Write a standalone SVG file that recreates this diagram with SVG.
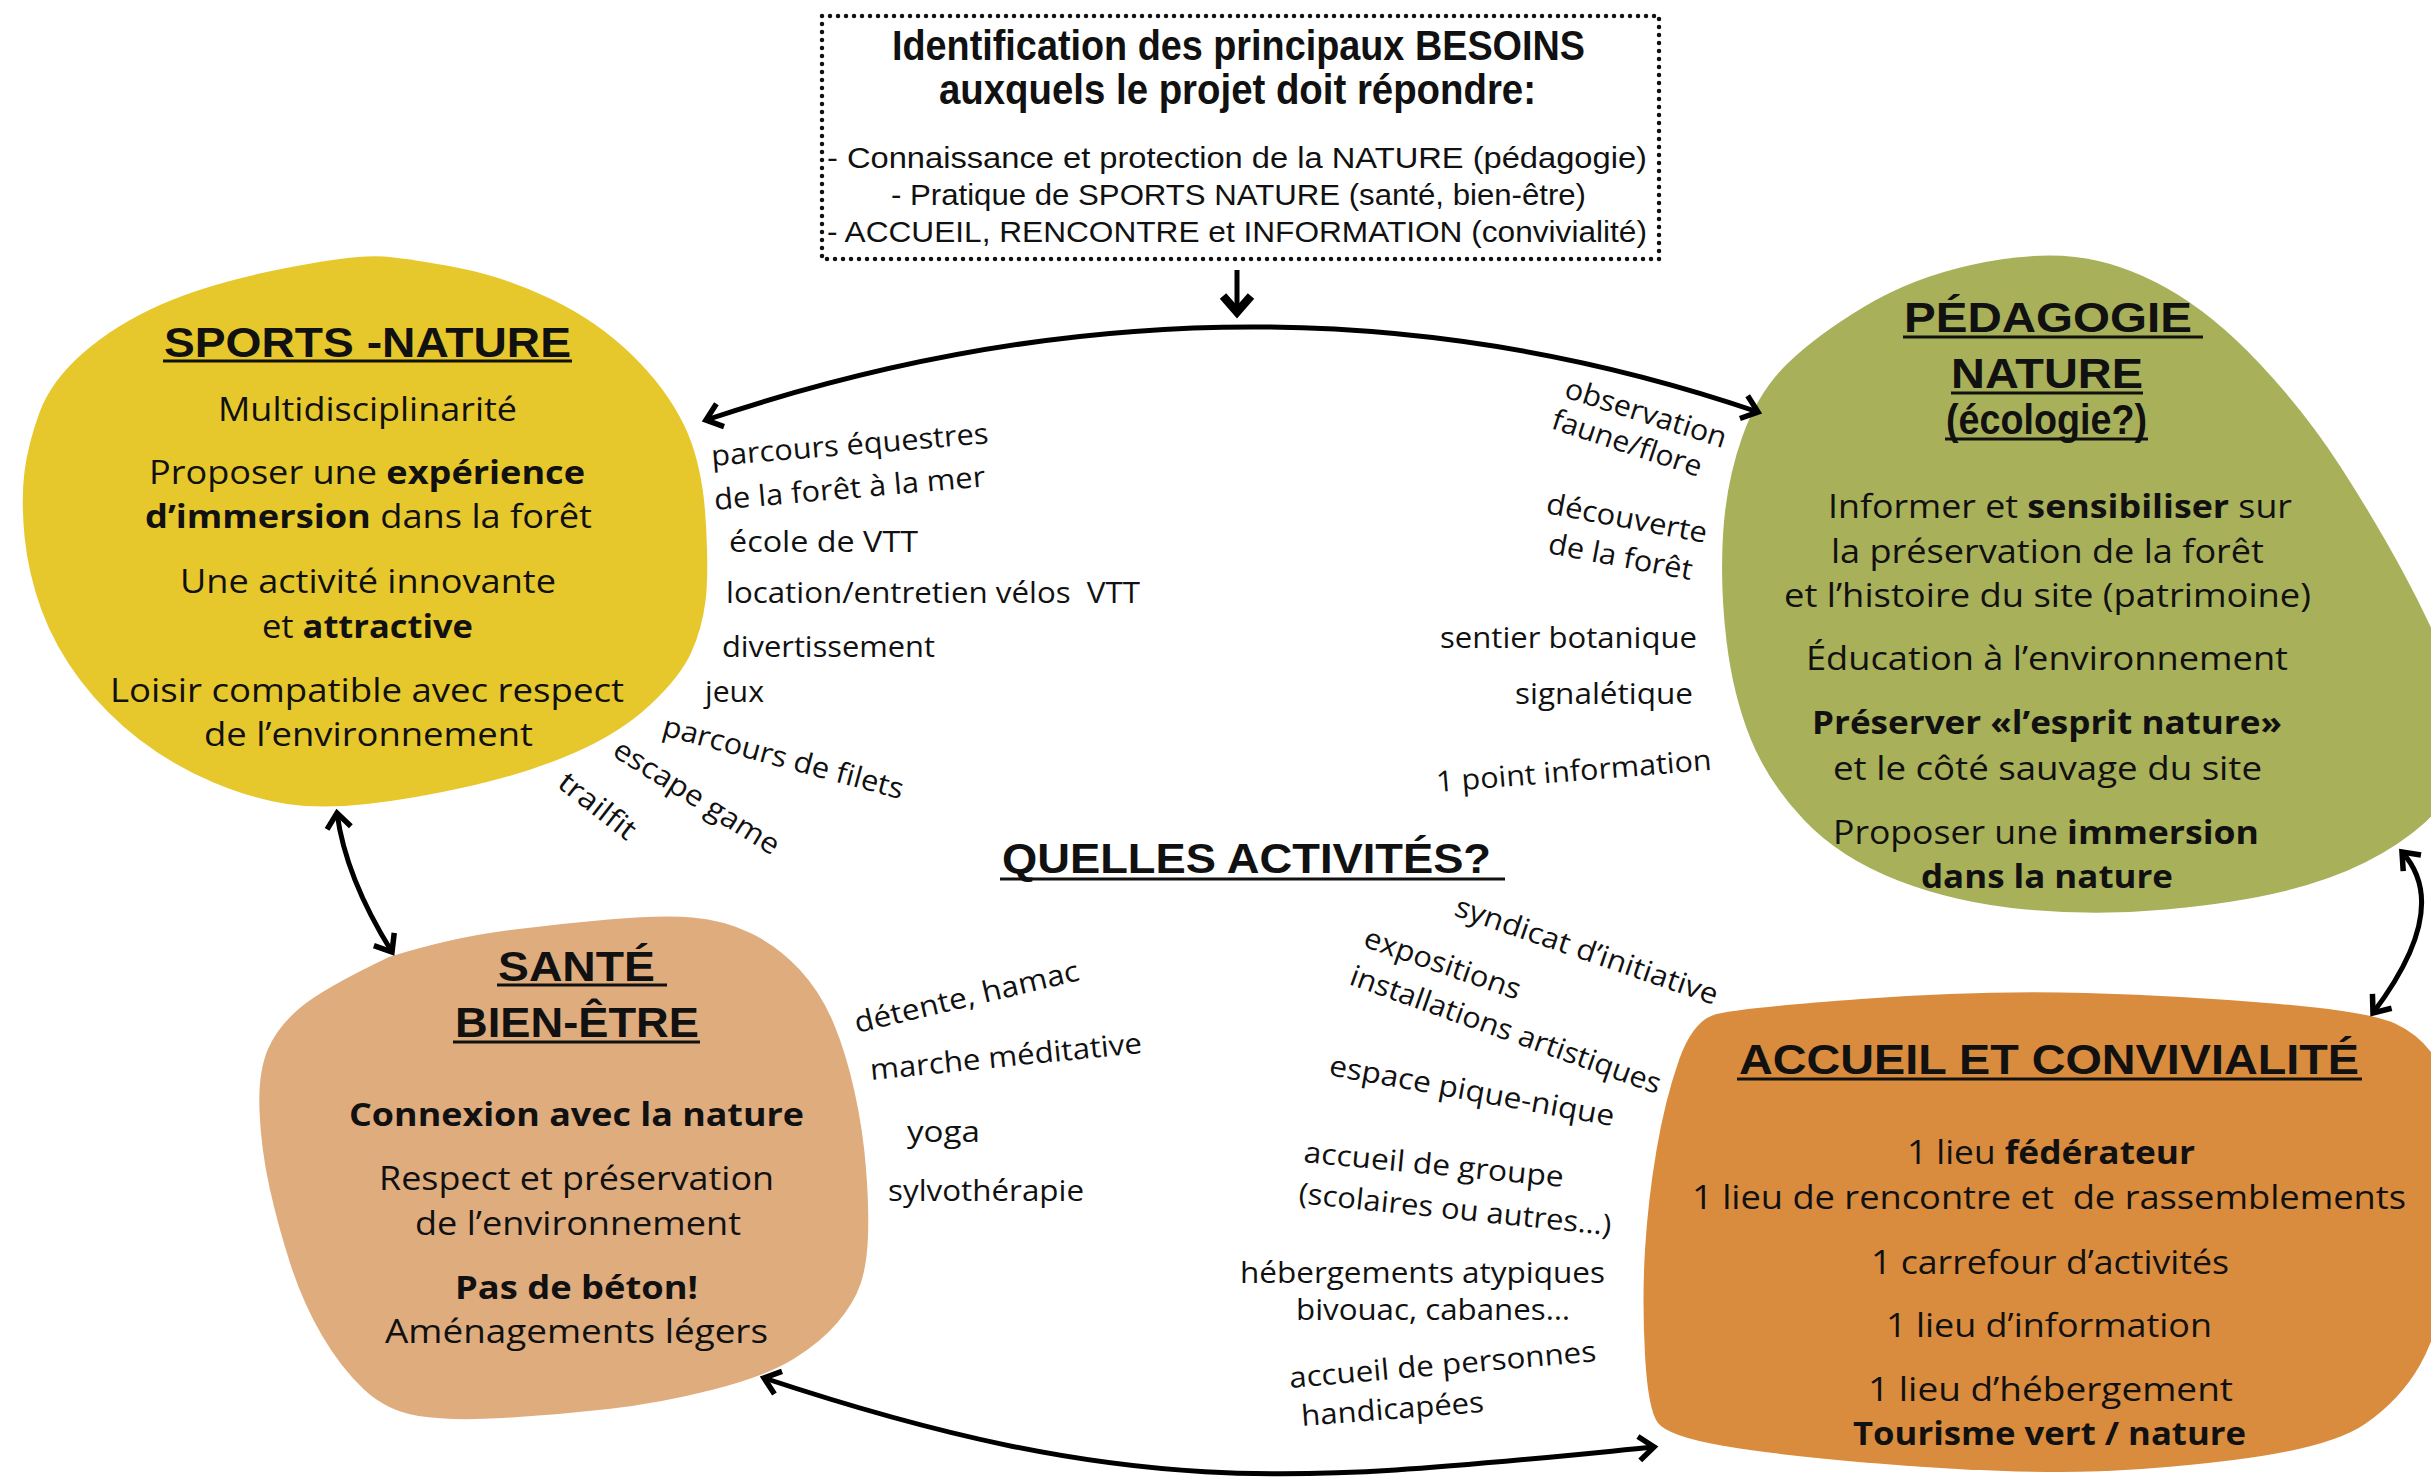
<svg xmlns="http://www.w3.org/2000/svg" width="2431" height="1482" viewBox="0 0 2431 1482">
<style>
.hd{font-family:"Liberation Sans","Arial",sans-serif;font-weight:700;font-size:43px;fill:#111}
.bx{font-family:"Liberation Sans","Arial",sans-serif;font-weight:400;font-size:30px;fill:#111}
.bd{font-family:"Open Sans","Noto Sans",sans-serif;font-weight:400;font-size:33px;fill:#111}
.ac{font-family:"Open Sans","Noto Sans",sans-serif;font-weight:400;font-size:29px;fill:#111}
.b{font-weight:700}
.ul{stroke:#111;stroke-width:3}
.con{fill:none;stroke:#000;stroke-width:5}
.pre{white-space:pre}
</style>
<defs>
<marker id="ah" viewBox="0 0 30 30" refX="24" refY="15" markerWidth="30" markerHeight="30" markerUnits="userSpaceOnUse" orient="auto-start-reverse" overflow="visible">
<path d="M9,3 L24,15 L9,27" fill="none" stroke="#000" stroke-width="5.5"/>
</marker>
<marker id="ahd" viewBox="0 0 34 34" refX="25" refY="17" markerWidth="34" markerHeight="34" markerUnits="userSpaceOnUse" orient="auto" overflow="visible">
<path d="M9,3 L25,17 L9,31" fill="none" stroke="#000" stroke-width="8.5"/>
</marker>
</defs>
<rect width="2431" height="1482" fill="#fff"/>

<g id="node-besoins">
<rect x="822" y="16" width="837" height="243" fill="none" stroke="#111" stroke-width="4.5" stroke-dasharray="0 8" stroke-linecap="round"/>
<text class="hd" x="892" y="60" font-size="37" textLength="693" lengthAdjust="spacingAndGlyphs">Identification des principaux BESOINS</text>
<text class="hd" x="939" y="104" font-size="37" textLength="597" lengthAdjust="spacingAndGlyphs">auxquels le projet doit répondre:</text>
<text class="bx" x="827" y="168" textLength="820" lengthAdjust="spacingAndGlyphs">- Connaissance et protection de la NATURE (pédagogie)</text>
<text class="bx" x="891" y="205" textLength="695" lengthAdjust="spacingAndGlyphs">- Pratique de SPORTS NATURE (santé, bien-être)</text>
<text class="bx" x="827" y="242" textLength="820" lengthAdjust="spacingAndGlyphs">- ACCUEIL, RENCONTRE et INFORMATION (convivialité)</text>
</g>

<g id="node-sports">
<path fill="#E6C82D" d="M281,269 Q355,254 384,256.5 Q413,259 459,268 Q505,277 551,299 Q597,321 631.5,354.5 Q666,388 684,425 Q702,462 705.5,517.5 Q709,573 705.5,601 Q702,629 691,653 Q680,677 650,705 Q620,733 574,753 Q528,773 470.5,786 Q413,799 367,804 Q321,809 287,804 Q253,799 213.5,782.5 Q174,766 140,740 Q106,714 80.5,680.5 Q55,647 41.5,610 Q28,573 24.5,536 Q21,499 24.5,471.5 Q28,444 39.5,412.5 Q51,381 83,353 Q115,325 161,304.5 Q207,284 281,269 Z"/>
<text class="hd" x="164" y="357" textLength="407" lengthAdjust="spacingAndGlyphs">SPORTS -NATURE</text>
<line class="ul" x1="163" y1="361" x2="572" y2="361"/>
<text class="bd" x="218" y="421" textLength="299" lengthAdjust="spacingAndGlyphs">Multidisciplinarité</text>
<text class="bd" x="149" y="484" textLength="436" lengthAdjust="spacingAndGlyphs">Proposer une <tspan class="b">expérience</tspan></text>
<text class="bd" x="145" y="528" textLength="447" lengthAdjust="spacingAndGlyphs"><tspan class="b">d’immersion</tspan> dans la forêt</text>
<text class="bd" x="180" y="593" textLength="376" lengthAdjust="spacingAndGlyphs">Une activité innovante</text>
<text class="bd" x="262" y="638" textLength="211" lengthAdjust="spacingAndGlyphs">et <tspan class="b">attractive</tspan></text>
<text class="bd" x="110" y="702" textLength="514" lengthAdjust="spacingAndGlyphs">Loisir compatible avec respect</text>
<text class="bd" x="204" y="746" textLength="329" lengthAdjust="spacingAndGlyphs">de l’environnement</text>
</g>

<g id="node-pedagogie">
<path fill="#A8B05A" d="M1971,265 Q2030,252 2075,257 Q2120,262 2166.5,288 Q2213,314 2259.5,363.5 Q2306,413 2341,467.5 Q2376,522 2403,572 Q2430,622 2450,671 Q2470,720 2460,760 Q2450,800 2425,822.5 Q2400,845 2365,862.5 Q2330,880 2283,891.5 Q2236,903 2166,909.5 Q2096,916 2026,909.5 Q1956,903 1898,880.5 Q1840,858 1804,820 Q1768,782 1750.5,738.5 Q1733,695 1726.5,641 Q1720,587 1723,535 Q1726,483 1742,437.5 Q1758,392 1787.5,363.5 Q1817,335 1864.5,306.5 Q1912,278 1971,265 Z"/>
<text class="hd" x="1904" y="332" textLength="288" lengthAdjust="spacingAndGlyphs">PÉDAGOGIE</text>
<line class="ul" x1="1903" y1="337" x2="2203" y2="337"/>
<text class="hd" x="1951" y="388" font-size="42" textLength="192" lengthAdjust="spacingAndGlyphs">NATURE</text>
<line class="ul" x1="1951" y1="393" x2="2143" y2="393"/>
<text class="hd" x="1946" y="434" font-size="30" textLength="201" lengthAdjust="spacingAndGlyphs">(écologie?)</text>
<line class="ul" x1="1945" y1="439" x2="2148" y2="439"/>
<text class="bd" x="1828" y="518" textLength="464" lengthAdjust="spacingAndGlyphs">Informer et <tspan class="b">sensibiliser</tspan> sur</text>
<text class="bd" x="1831" y="563" textLength="433" lengthAdjust="spacingAndGlyphs">la préservation de la forêt</text>
<text class="bd" x="1784" y="607" textLength="527" lengthAdjust="spacingAndGlyphs">et l’histoire du site (patrimoine)</text>
<text class="bd" x="1806" y="670" textLength="482" lengthAdjust="spacingAndGlyphs">Éducation à l’environnement</text>
<text class="bd b" x="1812" y="734" textLength="470" lengthAdjust="spacingAndGlyphs">Préserver «l’esprit nature»</text>
<text class="bd" x="1833" y="780" textLength="429" lengthAdjust="spacingAndGlyphs">et le côté sauvage du site</text>
<text class="bd" x="1833" y="844" textLength="426" lengthAdjust="spacingAndGlyphs">Proposer une <tspan class="b">immersion</tspan></text>
<text class="bd b" x="1921" y="888" textLength="252" lengthAdjust="spacingAndGlyphs">dans la nature</text>
</g>

<g id="node-sante">
<path fill="#DFAC7E" d="M389,957 Q450,938 503,931 Q556,924 608.5,919.5 Q661,915 692.5,917.5 Q724,920 751.5,933.5 Q779,947 800,970 Q821,993 833.5,1023 Q846,1053 854.5,1091.5 Q863,1130 866,1168.5 Q869,1207 868,1236 Q867,1265 860.5,1284 Q854,1303 837.5,1322.5 Q821,1342 793.5,1359 Q766,1376 713.5,1389.5 Q661,1403 608.5,1409 Q556,1415 503,1418 Q450,1421 418.5,1416 Q387,1411 364,1389.5 Q341,1368 322,1335.5 Q303,1303 290.5,1264.5 Q278,1226 269.5,1187.5 Q261,1149 259.5,1110.5 Q258,1072 268,1049 Q278,1026 301,1007 Q324,988 389,957 Z"/>
<text class="hd" x="498" y="981" textLength="157" lengthAdjust="spacingAndGlyphs">SANTÉ</text>
<line class="ul" x1="497" y1="985" x2="667" y2="985"/>
<text class="hd" x="455" y="1037" textLength="244" lengthAdjust="spacingAndGlyphs">BIEN-ÊTRE</text>
<line class="ul" x1="453" y1="1042" x2="700" y2="1042"/>
<text class="bd b" x="349" y="1126" textLength="455" lengthAdjust="spacingAndGlyphs">Connexion avec la nature</text>
<text class="bd" x="379" y="1190" textLength="395" lengthAdjust="spacingAndGlyphs">Respect et préservation</text>
<text class="bd" x="415" y="1235" textLength="326" lengthAdjust="spacingAndGlyphs">de l’environnement</text>
<text class="bd b" x="455" y="1299" textLength="243" lengthAdjust="spacingAndGlyphs">Pas de béton!</text>
<text class="bd" x="385" y="1343" textLength="383" lengthAdjust="spacingAndGlyphs">Aménagements légers</text>
</g>

<g id="node-accueil">
<path fill="#D98C3D" d="M1716.5,1014 Q1740,1008 1861,999 Q1982,990 2085.5,993 Q2189,996 2279.5,1004 Q2370,1012 2395,1023.5 Q2420,1035 2435,1057.5 Q2450,1080 2455,1140 Q2460,1200 2450,1265 Q2440,1330 2420,1365 Q2400,1400 2365,1424 Q2330,1448 2233.5,1460 Q2137,1472 2059.5,1472 Q1982,1472 1878.5,1463.5 Q1775,1455 1721.5,1445.5 Q1668,1436 1658,1423 Q1648,1410 1645,1355 Q1642,1300 1645,1250 Q1648,1200 1656.5,1150 Q1665,1100 1679,1060 Q1693,1020 1716.5,1014 Z"/>
<text class="hd" x="1739" y="1074" textLength="620" lengthAdjust="spacingAndGlyphs">ACCUEIL ET CONVIVIALITÉ</text>
<line class="ul" x1="1737" y1="1079" x2="2362" y2="1079"/>
<text class="bd" x="1907" y="1164" textLength="288" lengthAdjust="spacingAndGlyphs">1 lieu <tspan class="b">fédérateur</tspan></text>
<text class="bd pre" x="1692" y="1209" textLength="714" lengthAdjust="spacingAndGlyphs">1 lieu de rencontre et  de rassemblements</text>
<text class="bd" x="1871" y="1274" textLength="358" lengthAdjust="spacingAndGlyphs">1 carrefour d’activités</text>
<text class="bd" x="1886" y="1337" textLength="326" lengthAdjust="spacingAndGlyphs">1 lieu d’information</text>
<text class="bd" x="1868" y="1401" textLength="365" lengthAdjust="spacingAndGlyphs">1 lieu d’hébergement</text>
<text class="bd b" x="1853" y="1445" textLength="393" lengthAdjust="spacingAndGlyphs">Tourisme vert / nature</text>
</g>

<g id="node-activites">
<text class="hd" x="1002" y="873" textLength="489" lengthAdjust="spacingAndGlyphs">QUELLES ACTIVITÉS?</text>
<line class="ul" x1="1000" y1="879" x2="1505" y2="879" stroke-width="3.5"/>
</g>

<g id="labels-sports">
<text class="ac" transform="translate(712,466) rotate(-4.7)" textLength="278" lengthAdjust="spacingAndGlyphs">parcours équestres</text>
<text class="ac" transform="translate(715,510) rotate(-5)" textLength="272" lengthAdjust="spacingAndGlyphs">de la forêt à la mer</text>
<text class="ac" x="729" y="552" textLength="189" lengthAdjust="spacingAndGlyphs">école de VTT</text>
<text class="ac pre" x="726" y="603" textLength="414" lengthAdjust="spacingAndGlyphs">location/entretien vélos  VTT</text>
<text class="ac" x="722" y="657" textLength="213" lengthAdjust="spacingAndGlyphs">divertissement</text>
<text class="ac" x="705" y="702" textLength="59" lengthAdjust="spacingAndGlyphs">jeux</text>
<text class="ac" transform="translate(661,735) rotate(15)" textLength="248" lengthAdjust="spacingAndGlyphs">parcours de filets</text>
<text class="ac" transform="translate(611,755) rotate(32)" textLength="190" lengthAdjust="spacingAndGlyphs">escape game</text>
<text class="ac" transform="translate(556,786) rotate(38)" textLength="90" lengthAdjust="spacingAndGlyphs">trailfit</text>
</g>

<g id="labels-pedagogie">
<text class="ac" transform="translate(1563,397) rotate(17.7)" textLength="168" lengthAdjust="spacingAndGlyphs">observation</text>
<text class="ac" transform="translate(1550,428) rotate(18.3)" textLength="156" lengthAdjust="spacingAndGlyphs">faune/flore</text>
<text class="ac" transform="translate(1545,513) rotate(10.6)" textLength="163" lengthAdjust="spacingAndGlyphs">découverte</text>
<text class="ac" transform="translate(1547,553) rotate(10.7)" textLength="146" lengthAdjust="spacingAndGlyphs">de la forêt</text>
<text class="ac" x="1440" y="648" textLength="257" lengthAdjust="spacingAndGlyphs">sentier botanique</text>
<text class="ac" x="1515" y="704" textLength="178" lengthAdjust="spacingAndGlyphs">signalétique</text>
<text class="ac" transform="translate(1437,792) rotate(-4.6)" textLength="276" lengthAdjust="spacingAndGlyphs">1 point information</text>
</g>

<g id="labels-sante">
<text class="ac" transform="translate(857,1033) rotate(-13.3)" textLength="230" lengthAdjust="spacingAndGlyphs">détente, hamac</text>
<text class="ac" transform="translate(871,1080) rotate(-5.7)" textLength="273" lengthAdjust="spacingAndGlyphs">marche méditative</text>
<text class="ac" x="907" y="1142" textLength="73" lengthAdjust="spacingAndGlyphs">yoga</text>
<text class="ac" x="888" y="1201" textLength="196" lengthAdjust="spacingAndGlyphs">sylvothérapie</text>
</g>

<g id="labels-accueil">
<text class="ac" transform="translate(1453,915) rotate(19)" textLength="276" lengthAdjust="spacingAndGlyphs">syndicat d’initiative</text>
<text class="ac" transform="translate(1362,946) rotate(19.2)" textLength="164" lengthAdjust="spacingAndGlyphs">expositions</text>
<text class="ac" transform="translate(1348,984) rotate(19.6)" textLength="328" lengthAdjust="spacingAndGlyphs">installations artistiques</text>
<text class="ac" transform="translate(1328,1075) rotate(10.2)" textLength="289" lengthAdjust="spacingAndGlyphs">espace pique-nique</text>
<text class="ac" transform="translate(1303,1162) rotate(5.5)" textLength="261" lengthAdjust="spacingAndGlyphs">accueil de groupe</text>
<text class="ac" transform="translate(1298,1203) rotate(5.9)" textLength="314" lengthAdjust="spacingAndGlyphs">(scolaires ou autres…)</text>
<text class="ac" x="1240" y="1283" textLength="365" lengthAdjust="spacingAndGlyphs">hébergements atypiques</text>
<text class="ac" x="1296" y="1320" textLength="274" lengthAdjust="spacingAndGlyphs">bivouac, cabanes…</text>
<text class="ac" transform="translate(1290,1388) rotate(-5)" textLength="308" lengthAdjust="spacingAndGlyphs">accueil de personnes</text>
<text class="ac" transform="translate(1302,1426) rotate(-4.4)" textLength="183" lengthAdjust="spacingAndGlyphs">handicapées</text>
</g>

<g id="connectors">
<path class="con" stroke-width="8" d="M1237,270 L1237,312" marker-end="url(#ahd)"/>
<path class="con" d="M706,420 Q1248,238 1758,412" marker-start="url(#ah)" marker-end="url(#ah)"/>
<path class="con" d="M337,813 Q345.5,877.5 392,952" marker-start="url(#ah)" marker-end="url(#ah)"/>
<path class="con" d="M2402,852 Q2452.5,907.5 2373,1013" marker-start="url(#ah)" marker-end="url(#ah)"/>
<path class="con" d="M764,1378 C1144,1504 1306,1481 1654,1447" marker-start="url(#ah)" marker-end="url(#ah)"/>
</g>
</svg>
